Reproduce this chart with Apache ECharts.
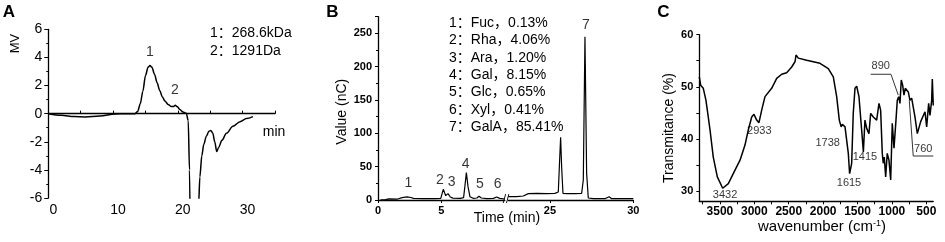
<!DOCTYPE html>
<html>
<head>
<meta charset="utf-8">
<script src="https://cdn.jsdelivr.net/npm/echarts@6.0.0/dist/echarts.min.js"></script>
<style>
  html, body { margin: 0; padding: 0; background: #fff; }
  #chart { width: 945px; height: 242px; }
</style>
</head>
<body>
<div id="chart"></div>
<script>
// ---- panel A : GPC trace ----
const aTime = [0, 2, 4, 5.7, 8, 10.3, 12, 13.4, 13.8, 14.2, 14.6, 15.0, 15.4, 15.7, 16.0, 16.4, 16.8, 17.2, 17.6, 18.0, 18.5, 19.0, 19.3, 19.6, 19.9, 20.3, 20.8, 21.3, 21.6, 21.8, 22.0, 23.0, 23.2, 23.4, 23.7, 24.0, 24.4, 24.8, 25.1, 25.4, 25.7, 26.0, 26.3, 26.8, 27.5, 28.5, 29.6, 30.6, 31.6]
const aSignal = [0, -0.12, -0.21, -0.23, -0.16, -0.02, 0, 0, 0.15, 0.7, 1.6, 2.7, 3.3, 3.42, 3.3, 2.8, 2.2, 1.65, 1.2, 0.9, 0.65, 0.5, 0.5, 0.6, 0.5, 0.3, 0.12, 0.03, -0.5, -4, -12, -12, -6.5, -4.5, -3.0, -2.2, -1.6, -1.25, -1.2, -1.4, -2.0, -2.7, -2.4, -1.9, -1.4, -0.9, -0.57, -0.35, -0.21]
const aPeakLabels = [[15.7, 4.39, '1'], [19.55, 1.69, '2']]
const aLegend = ['1：268.6kDa', '2：1291Da']

// ---- panel B : monosaccharide HPAEC (broken time axis) ----
const bTimeLeft = [0.2, 0.6, 0.87, 1.0, 1.5, 1.9, 2.3, 2.6, 2.8, 3.5, 4.5, 4.95, 5.15, 5.34, 5.52, 5.7, 5.9, 6.5, 6.75, 6.85, 6.97, 7.1, 7.25, 7.5, 7.8, 7.97, 8.15, 8.6, 9.1, 9.36, 9.6, 10]
const bValueLeft = [0.3, 0.5, 1.8, 0.8, 1.2, 3.5, 4.8, 3.8, 2.5, 2.2, 2.0, 2.5, 16, 6.5, 9.5, 4.5, 2.8, 2.5, 3.5, 20, 41, 20, 5, 2.5, 3, 5.5, 3, 2, 2.5, 4.5, 2.5, 1.5]
const bTimeRight = [22.5, 23.0, 23.4, 23.7, 24.2, 24.8, 25.3, 25.5, 25.58, 25.64, 25.7, 25.78, 26.0, 26.5, 26.9, 27.0, 27.1, 27.2, 27.3, 27.6, 28.3, 28.55, 28.7, 29.3, 30]
const bValueRight = [5, 5, 6, 9.5, 9.8, 9.5, 10, 12, 60, 94, 50, 10, 9.5, 9.5, 10, 30, 245, 40, 3, 2, 2, 5, 2, 2, 2]
const bPeakLabelsLeft = [[2.39, 26, '1'], [4.89, 30, '2'], [5.81, 26.5, '3'], [6.92, 53.5, '4'], [8.04, 24, '5'], [9.44, 24, '6']]
const bPeakLabelsRight = [[27.16, 262.5, '7']]
const bLegend = ['1：Fuc，0.13%', '2：Rha，4.06%', '3：Ara，1.20%', '4：Gal，8.15%', '5：Glc，0.65%', '6：Xyl，0.41%', '7：GalA，85.41%']

// ---- panel C : FT-IR ----
const cWave = [3800, 3780, 3742, 3703, 3644, 3597, 3538, 3460, 3432, 3378, 3281, 3208, 3136, 3088, 3038, 3005, 2966, 2933, 2893, 2845, 2748, 2675, 2602, 2530, 2457, 2409, 2394, 2361, 2239, 2046, 1925, 1852, 1803, 1765, 1738, 1721, 1682, 1634, 1615, 1585, 1562, 1537, 1512, 1479, 1440, 1415, 1392, 1367, 1334, 1309, 1271, 1222, 1188, 1164, 1140, 1126, 1111, 1091, 1068, 1043, 1018, 995, 970, 941, 922, 902, 883, 864, 844, 825, 806, 762, 738, 713, 665, 631, 582, 519, 495, 466, 447, 422, 413, 399]
const cTrans = [51.9, 50.3, 49.7, 47.4, 41.7, 36.5, 32.7, 30.5, 30.3, 31.4, 34, 35.9, 38.8, 41.7, 44.2, 44.7, 43.6, 43.1, 45.5, 48.1, 49.7, 51.6, 52.4, 52.7, 53.8, 54.8, 56.1, 55.5, 55.1, 54.5, 53.5, 51.9, 48.1, 43.6, 42.3, 42.8, 42.3, 37.2, 33.3, 35.3, 44.9, 49.7, 50.1, 48.1, 41.7, 37.5, 43.6, 42.0, 41.0, 44.9, 44.2, 43.6, 46.8, 45.5, 37.2, 35.3, 36.5, 32.7, 37.2, 35.9, 32.1, 43.0, 38.2, 43.6, 47.4, 48.1, 46.8, 51.3, 50.3, 48.4, 49.7, 49.0, 47.4, 47.8, 44.2, 41.0, 43.3, 45.2, 42.3, 46.8, 44.5, 47.4, 51.5, 46.4]
const cPeakLabels = [[3426, 29.2, '3432'], [2928, 41.5, '2933'], [1934, 39.2, '1738'], [1624, 31.5, '1615'], [1392, 36.5, '1415'], [1163, 54.0, '890'], [544, 38.0, '760']]
const cLead890 = [[1309, 52.4], [1014, 52.4], [908, 48.4]]
const cLead760 = [[748, 47.4], [690, 36.7], [399, 36.7]]
const cXLabels = [3500, 3000, 2500, 2000, 1500, 1000, 500]
const cXTicks = [3750, 3500, 3250, 3000, 2750, 2500, 2250, 2000, 1750, 1500, 1250, 1000, 750, 500]
const cYLabels = [30, 40, 50, 60]
const cYTicks = [30, 35, 40, 45, 50, 55, 60]

const FONT = 'Liberation Sans, Arial, Noto Sans CJK SC, sans-serif'
const zip = (xs, ys) => xs.map((x, i) => [x, ys[i]])

const axisLine = { lineStyle: { color: '#000', width: 1.3 } }

// scatter series used only to place text labels at data positions
const labelSeries = (data, xi, size) => ({
  type: 'scatter',
  xAxisIndex: xi,
  yAxisIndex: xi,
  data: data,
  symbolSize: 1,
  itemStyle: { color: 'rgba(0,0,0,0)' },
  silent: true,
  label: {
    show: true,
    position: 'inside',
    formatter: p => p.data[2],
    color: '#000',
    fontFamily: FONT,
    fontSize: size
  }
})

const chart = echarts.init(document.getElementById('chart'), null, { renderer: 'canvas' })

const graphics = []
const text = (x, y, t, opt = {}) => graphics.push({
  type: 'text', x, y, rotation: opt.rotation || 0, silent: true,
  style: {
    text: t, fill: '#000', font: opt.font || ('14px ' + FONT),
    align: opt.align || 'center', verticalAlign: 'middle'
  }
})

// panel letters
text(9, 12.5, 'A', { font: 'bold 17px ' + FONT })
text(332.5, 12.5, 'B', { font: 'bold 17px ' + FONT })
text(663.5, 12.5, 'C', { font: 'bold 17px ' + FONT })
// axis titles
text(15, 43.5, 'MV', { rotation: Math.PI / 2, font: '13px ' + FONT })
text(274, 132, 'min', { font: '14px ' + FONT })
text(341.7, 111.7, 'Value (nC)', { rotation: Math.PI / 2 })
text(507, 218.3, 'Time (min)')
text(669.3, 128, 'Transmitance (%)', { rotation: Math.PI / 2 })
graphics.push({
  type: 'text', x: 822, y: 226.7, silent: true,
  style: {
    text: 'wavenumber (cm{sup|-1})', fill: '#000', font: '15px ' + FONT,
    align: 'center', verticalAlign: 'middle',
    rich: { sup: { fontSize: 9, fontFamily: FONT, verticalAlign: 'top', fill: '#000' } }
  }
})
// legends
aLegend.forEach((t, i) => text(210, 33 + i * 18, t, { align: 'left' }))
bLegend.forEach((t, i) => text(449, 23.3 + i * 17.3, t, { align: 'left' }))
// axis break mark
text(506, 200, '//', { font: '12px ' + FONT })

const option = {
  animation: false,
  textStyle: { fontFamily: FONT },
  grid: [
    { left: 48.3, top: 29.3, width: 226.7, height: 168.7, outerBoundsMode: 'none' },
    { left: 378, top: 16.7, width: 126.8, height: 183.3, outerBoundsMode: 'none' },
    { left: 508.3, top: 16.7, width: 125, height: 183.3, outerBoundsMode: 'none' },
    { left: 699.3, top: 34.7, width: 233.9, height: 166.6, outerBoundsMode: 'none' }
  ],
  xAxis: [
    {
      gridIndex: 0, type: 'value', min: 0, max: 35, interval: 5,
      axisLine: { onZero: true, ...axisLine },
      axisTick: { inside: true, length: 3, lineStyle: { color: '#000' } },
      axisLabel: {
        formatter: v => (v % 10 === 0 && v < 35 ? v : ''),
        color: '#000', fontSize: 14, margin: 5, padding: [0, 0, 0, 10]
      },
      splitLine: { show: false }
    },
    {
      gridIndex: 1, type: 'value', min: 0, max: 10,
      axisLine: axisLine,
      axisTick: { length: 3, customValues: [0, 5], lineStyle: { color: '#000' } },
      axisLabel: { customValues: [0, 5], color: '#000', fontSize: 11, fontWeight: 'bold', margin: 5 },
      splitLine: { show: false }
    },
    {
      gridIndex: 2, type: 'value', min: 22.5, max: 30,
      axisLine: axisLine,
      axisTick: { length: 3, customValues: [25, 30], lineStyle: { color: '#000' } },
      axisLabel: { customValues: [25, 30], color: '#000', fontSize: 11, fontWeight: 'bold', margin: 5 },
      splitLine: { show: false }
    },
    {
      gridIndex: 3, type: 'value', min: 400, max: 3800, inverse: true,
      axisLine: axisLine,
      axisTick: { length: 3, customValues: cXTicks, lineStyle: { color: '#000' } },
      axisLabel: {
        customValues: cXLabels, formatter: v => String(v),
        color: '#000', fontSize: 12, fontWeight: 'bold', margin: 4
      },
      splitLine: { show: false }
    }
  ],
  yAxis: [
    {
      gridIndex: 0, type: 'value', min: -6, max: 6, interval: 2,
      axisLine: { show: true, onZero: false, ...axisLine },
      axisTick: { show: true, length: 4, lineStyle: { color: '#000' } },
      minorTick: { show: true, splitNumber: 2, length: 2, lineStyle: { color: '#000' } },
      axisLabel: { color: '#000', fontSize: 14, margin: 6 },
      splitLine: { show: false }
    },
    {
      gridIndex: 1, type: 'value', min: 0, max: 275, interval: 50,
      axisLine: { show: true, onZero: false, ...axisLine },
      axisTick: { show: true, length: 3, lineStyle: { color: '#000' } },
      minorTick: { show: true, splitNumber: 2, length: 2, lineStyle: { color: '#000' } },
      axisLabel: { formatter: v => (v % 50 === 0 ? v : ''), color: '#000', fontSize: 11, fontWeight: 'bold', margin: 6 },
      splitLine: { show: false }
    },
    { gridIndex: 2, type: 'value', min: 0, max: 275, show: false },
    {
      gridIndex: 3, type: 'value', min: 28, max: 60,
      axisLine: { show: true, onZero: false, ...axisLine },
      axisTick: { show: true, length: 3, customValues: cYTicks, lineStyle: { color: '#000' } },
      axisLabel: { customValues: cYLabels, color: '#000', fontSize: 11, fontWeight: 'bold', margin: 6 },
      splitLine: { show: false }
    }
  ],
  series: [
    {
      type: 'line', xAxisIndex: 0, yAxisIndex: 0, data: zip(aTime, aSignal),
      showSymbol: false, smooth: 0.3, smoothMonotone: 'x', clip: true,
      lineStyle: { color: '#000', width: 1.5 }
    },
    labelSeries(aPeakLabels, 0, 14),
    {
      type: 'line', xAxisIndex: 1, yAxisIndex: 1, data: zip(bTimeLeft, bValueLeft),
      showSymbol: false, clip: true, lineStyle: { color: '#000', width: 1.2 }
    },
    {
      type: 'line', xAxisIndex: 2, yAxisIndex: 2, data: zip(bTimeRight, bValueRight),
      showSymbol: false, clip: true, lineStyle: { color: '#000', width: 1.2 }
    },
    labelSeries(bPeakLabelsLeft, 1, 14),
    labelSeries(bPeakLabelsRight, 2, 14),
    {
      type: 'line', xAxisIndex: 3, yAxisIndex: 3, data: zip(cWave, cTrans),
      showSymbol: false, clip: true, lineStyle: { color: '#000', width: 1.5 }
    },
    labelSeries(cPeakLabels, 3, 11),
    {
      type: 'line', xAxisIndex: 3, yAxisIndex: 3, data: cLead890,
      showSymbol: false, silent: true, lineStyle: { color: '#333', width: 1 }
    },
    {
      type: 'line', xAxisIndex: 3, yAxisIndex: 3, data: cLead760,
      showSymbol: false, silent: true, lineStyle: { color: '#333', width: 1 }
    }
  ],
  graphic: graphics
}

chart.setOption(option)
window.addEventListener('resize', () => chart.resize())
</script>
</body>
</html>
